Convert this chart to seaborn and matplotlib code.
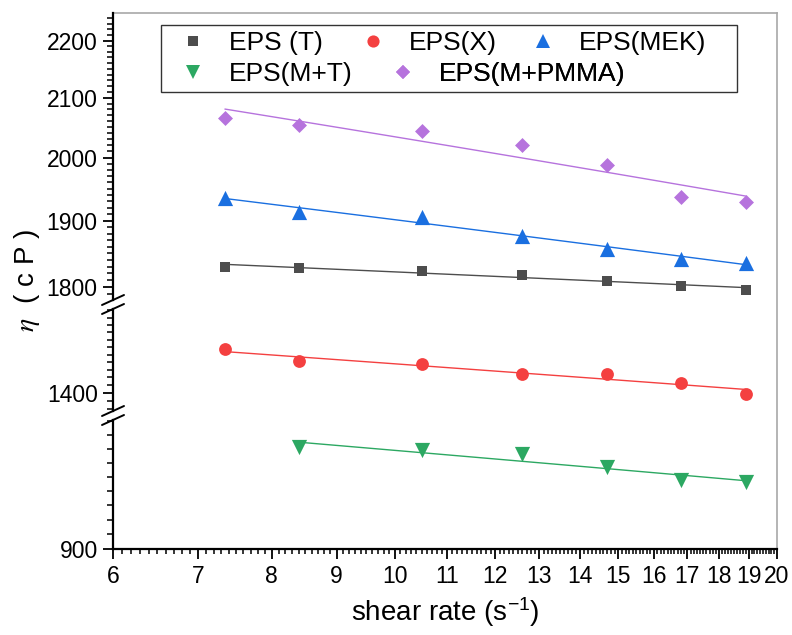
import numpy as np
import matplotlib
matplotlib.use("Agg")
import matplotlib.pyplot as plt
from matplotlib.lines import Line2D
from matplotlib.patches import Rectangle
from matplotlib.ticker import FixedLocator, FuncFormatter, NullFormatter
import seaborn as sns

# data
shear_rate = [7.35, 8.4, 10.5, 12.6, 14.7, 16.8, 18.9]
shear_rate_mt = [8.4, 10.5, 12.6, 14.7, 16.8, 18.9]
eta_t = [1830, 1828, 1824, 1818, 1809, 1802, 1796]
eta_x = [1457, 1441, 1437, 1424, 1424, 1413, 1399]
eta_mek = [1936, 1913, 1906, 1876, 1857, 1842, 1836]
eta_mt = [971, 969, 966, 957, 948, 946]
eta_mpmma = [2066, 2054, 2044, 2020, 1988, 1937, 1929]

x_ticks = list(range(6, 21))

sns.set_style("ticks")
plt.rcParams["font.family"] = ["Liberation Sans", "DejaVu Sans"]
plt.rcParams["mathtext.fontset"] = "custom"
plt.rcParams["mathtext.rm"] = "Liberation Sans"
plt.rcParams["mathtext.it"] = "Liberation Sans:italic"
for key in ["text.color", "axes.labelcolor", "xtick.color", "ytick.color"]:
    plt.rcParams[key] = "black"

W, H = 792, 635
fig = plt.figure(figsize=(W / 100, H / 100), dpi=100)


def fx(px):
    return px / W


def fy(py):
    return 1 - py / H


L, R, TOP, BOT = 113, 777, 13, 549.3

# gray frame (top / right)
bg = fig.add_axes([fx(L), fy(BOT), fx(R) - fx(L), fy(TOP) - fy(BOT)], zorder=0)
bg.set_xticks([])
bg.set_yticks([])
for side in ["left", "bottom"]:
    bg.spines[side].set_visible(False)
for side in ["top", "right"]:
    bg.spines[side].set_color("#a8a8a8")
    bg.spines[side].set_linewidth(1.2)

# broken y axis: (top px, bottom px, ylim, major ticks)
segments = [
    (13, 300, (1781, 2250), [1800, 1900, 2000, 2100, 2200]),
    (309, 411, (1377, 1512), [1400]),
    (420, 549.3, (900, 991), [900]),
]

axes = []
for top_px, bot_px, ylim, majors in segments:
    ax = fig.add_axes([fx(L), fy(bot_px), fx(R) - fx(L), fy(top_px) - fy(bot_px)], zorder=2)
    ax.patch.set_alpha(0)
    ax.set_xscale("log")
    ax.set_yscale("log")
    ax.set_xlim(6, 20)
    ax.set_ylim(*ylim)
    ax.yaxis.set_major_locator(FixedLocator(majors))
    ax.yaxis.set_minor_locator(FixedLocator(np.arange(np.ceil(ylim[0] / 10) * 10, ylim[1], 10)))
    for side in ["top", "right", "bottom"]:
        ax.spines[side].set_visible(False)
    ax.spines["left"].set_linewidth(1.6)
    ax.spines["left"].set_color("black")
    ax.tick_params(axis="y", which="major", direction="out", length=7, width=1.3,
                   labelsize=16.5, pad=4, color="black")
    ax.tick_params(axis="y", which="minor", direction="out", length=4, width=1.1, color="black")
    ax.tick_params(axis="x", which="both", bottom=False, labelbottom=False)
    axes.append(ax)

ax_top, ax_mid, ax_bot = axes

# x axis on the bottom segment
ax_bot.spines["bottom"].set_visible(True)
ax_bot.spines["bottom"].set_linewidth(1.6)
ax_bot.spines["bottom"].set_color("black")
ax_bot.xaxis.set_major_locator(FixedLocator(x_ticks))
ax_bot.xaxis.set_minor_locator(FixedLocator(np.arange(6, 20.01, 0.1)))
ax_bot.tick_params(axis="x", which="major", bottom=True, labelbottom=True, direction="out",
                   length=7, width=1.3, labelsize=16.5, pad=4, color="black")
ax_bot.tick_params(axis="x", which="minor", bottom=True, direction="out", length=3.5,
                   width=1.1, color="black")

series = [
    ("EPS (T)", shear_rate, eta_t, ax_top, "#4d4d4d", "s", 60),
    ("EPS(X)", shear_rate, eta_x, ax_mid, "#f44040", "o", 85),
    ("EPS(MEK)", shear_rate, eta_mek, ax_top, "#1a6fe0", "^", 120),
    ("EPS(M+T)", shear_rate_mt, eta_mt, ax_bot, "#2ca862", "v", 120),
    ("EPS(M+PMMA)", shear_rate, eta_mpmma, ax_top, "#b673dd", "D", 58),
]

handles = []
for label, xs, ys, ax, color, marker, size in series:
    sns.regplot(x=xs, y=ys, ax=ax, scatter=False, ci=None, logx=True, truncate=True,
                color=color, line_kws={"linewidth": 1, "zorder": 2})
    sns.scatterplot(x=xs, y=ys, ax=ax, marker=marker, s=size, color=color,
                    edgecolor=color, linewidth=0, zorder=3, legend=False)
    handles.append(Line2D([], [], linestyle="none", marker=marker, color=color,
                          markersize=np.sqrt(size) * 0.95, markeredgewidth=0))
    ax.set_xlim(6, 20)
    ax.set_xlabel("")
    ax.set_ylabel("")

ax_bot.xaxis.set_major_formatter(FuncFormatter(lambda v, p: f"{v:.0f}"))
ax_bot.xaxis.set_minor_formatter(NullFormatter())
for ax in axes:
    ax.yaxis.set_major_formatter(FuncFormatter(lambda v, p: f"{v:.0f}"))
    ax.yaxis.set_minor_formatter(NullFormatter())

# axis break marks
for y in [300, 309, 411, 420]:
    fig.add_artist(Line2D([fx(L - 11), fx(L + 11)], [fy(y + 5), fy(y - 5)],
                          transform=fig.transFigure, color="black", linewidth=1.4, zorder=5))

# legend: Origin-style box, entries laid out row by row
fig.add_artist(Rectangle((fx(161), fy(92)), fx(737) - fx(161), fy(25) - fy(92),
                         transform=fig.transFigure, facecolor="white",
                         edgecolor="#333333", linewidth=1.0, zorder=1.5))
legend_pos = [(193, 43), (373, 43), (543, 43), (193, 74), (403, 74)]
legend_fs = 19
hl = legend_fs * 100 / 72 * 1.0
for (label, *_), h, (mx, my) in zip(series, handles, legend_pos):
    leg = ax_top.legend([h], [label], loc="center left",
                        bbox_to_anchor=(fx(mx - hl / 2), fy(my)),
                        bbox_transform=fig.transFigure, borderaxespad=0, borderpad=0,
                        frameon=False, handlelength=1.0, handletextpad=0.85,
                        fontsize=legend_fs)
    ax_top.add_artist(leg)

fig.text(fx(445), fy(612), r"shear rate (s$^{-1}$)", ha="center", va="center", fontsize=20)
fig.text(fx(27), fy(281), r"$\eta$  ( c P )", rotation=90, ha="center", va="center",
         fontsize=20, math_fontfamily="stix")

fig.savefig("out.png", dpi=100)
